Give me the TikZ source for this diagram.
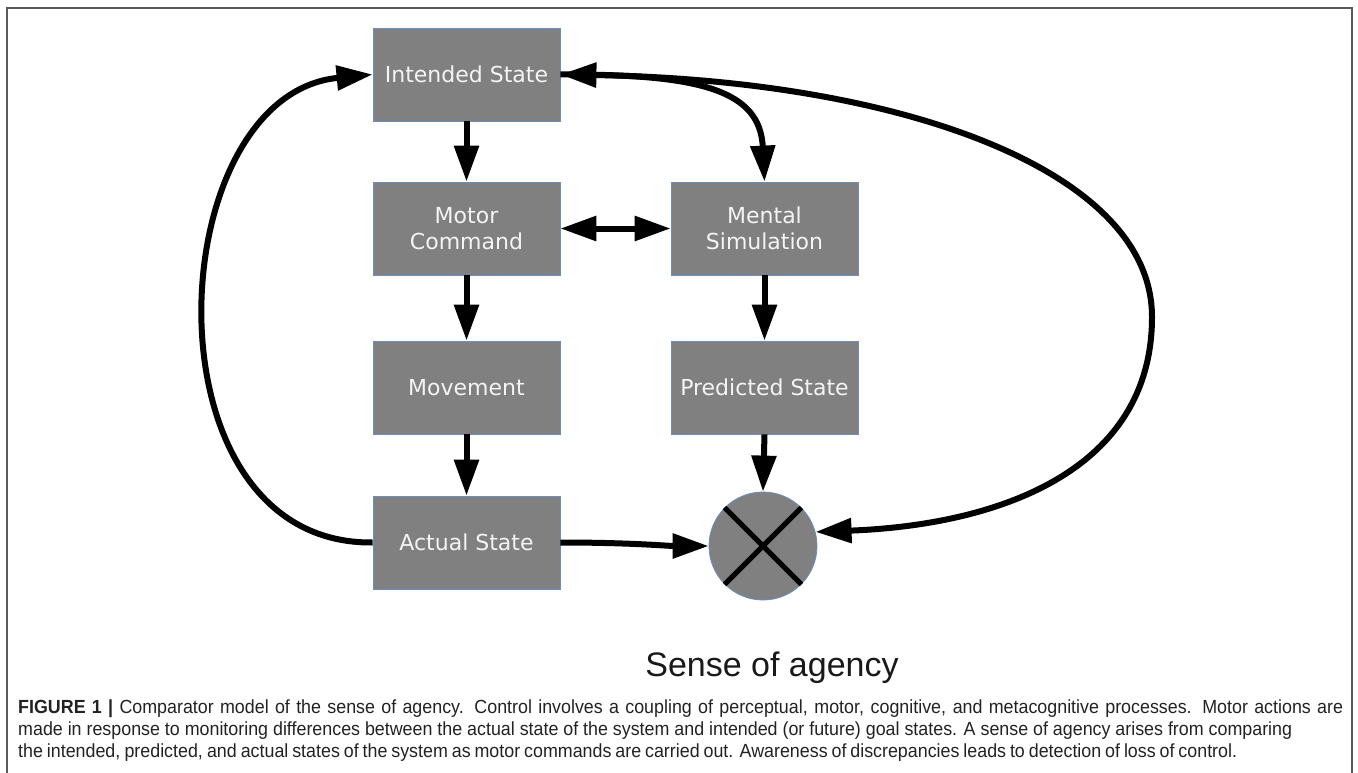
\documentclass[tikz,border=0pt]{standalone}
\usepackage{fontspec}
\setmainfont{Liberation Sans}
\newfontfamily\boxfont{DejaVu Sans}
\newfontfamily\capfont[FakeStretch=0.94]{Liberation Sans}
\usetikzlibrary{arrows.meta,calc}
\definecolor{boxgray}{HTML}{808080}
\definecolor{boxedge}{HTML}{6C8EBF}
\definecolor{boxtext}{HTML}{F4F4F4}
\definecolor{framec}{HTML}{5A5A5A}
\definecolor{captext}{HTML}{222222}
\begin{document}
\begin{tikzpicture}[x=1pt,y=-1pt,
  stepbox/.style={rectangle, fill=boxgray, draw=boxedge, line width=0.8pt,
    minimum width=187pt, minimum height=93pt, inner sep=0pt, text=boxtext,
    font=\boxfont\fontsize{22}{26}\selectfont, align=center},
  comp/.style={circle, fill=boxgray, draw=boxedge, line width=0.8pt,
    minimum size=108pt, inner sep=0pt},
  arr/.style={line width=6pt, -{Triangle[length=36pt,width=24pt]}},
  darr/.style={line width=6pt, {Triangle[length=36pt,width=24pt]}-{Triangle[length=36pt,width=24pt]}},
  capline/.style={anchor=base west, inner sep=0pt, text=captext,
    font=\capfont\fontsize{19}{22}\selectfont}
]
\useasboundingbox (0,0) rectangle (1358,773);
\draw[framec, line width=1.3pt] (7,773) -- (7,8) -- (1352,8) -- (1352,773);

\node[stepbox] (int)  at (466.5,74.5)  {Intended State};
\node[stepbox] (mot)  at (466.5,228.5) {Motor\\Command};
\node[stepbox] (mov)  at (466.5,387.5) {Movement};
\node[stepbox] (act)  at (466.5,542.5) {Actual State};
\node[stepbox] (ment) at (764.5,228.5) {Mental\\Simulation};
\node[stepbox] (pred) at (764.5,387.5) {Predicted State};
\node[comp] (circ) at (763,546) {};
\draw[black, line width=5pt] (circ.north east) -- (circ.south west);
\draw[black, line width=5pt] (circ.north west) -- (circ.south east);

\coordinate (rt) at (1152,317);

\draw[arr] (int.south) -- (mot.north);
\draw[arr] (mot.south) -- (mov.north);
\draw[arr] (mov.south) -- (act.north);
\draw[arr] (ment.south) -- (pred.north);
\draw[arr] (pred.south) -- (circ.north);
\draw[darr] (mot.east) -- (ment.west);
\draw[arr] (act.east) .. controls +(70,0) and +(-40,0) .. (circ.west);
\draw[arr] (act.west) .. controls (140,545) and (160,95) .. (int.west);
\draw[arr] (int.east) .. controls (700,74) and (760,90) .. (ment.north);
\draw[darr] (int.east) .. controls (900,80) and (1152,170) .. (rt)
  .. controls (1152,470) and (1000,525) .. (circ.15);

\node[anchor=base, inner sep=0pt, text=black!90, font=\fontsize{34}{34}\selectfont] (soa) at (772,676) {Sense of agency};

\node[capline] (c1) at (18,713) {\makebox[1325pt][s]{\textbf{FIGURE 1 |} Comparator model of the sense of agency. Control involves a coupling of perceptual, motor, cognitive, and metacognitive processes. Motor actions are}};
\node[capline] (c2) at (18,735) {\makebox[1274pt][s]{made in response to monitoring differences between the actual state of the system and intended (or future) goal states. A sense of agency arises from comparing}};
\node[capline] (c3) at (18,757) {\makebox[1219pt][s]{the intended, predicted, and actual states of the system as motor commands are carried out. Awareness of discrepancies leads to detection of loss of control.}};
\end{tikzpicture}
\end{document}
